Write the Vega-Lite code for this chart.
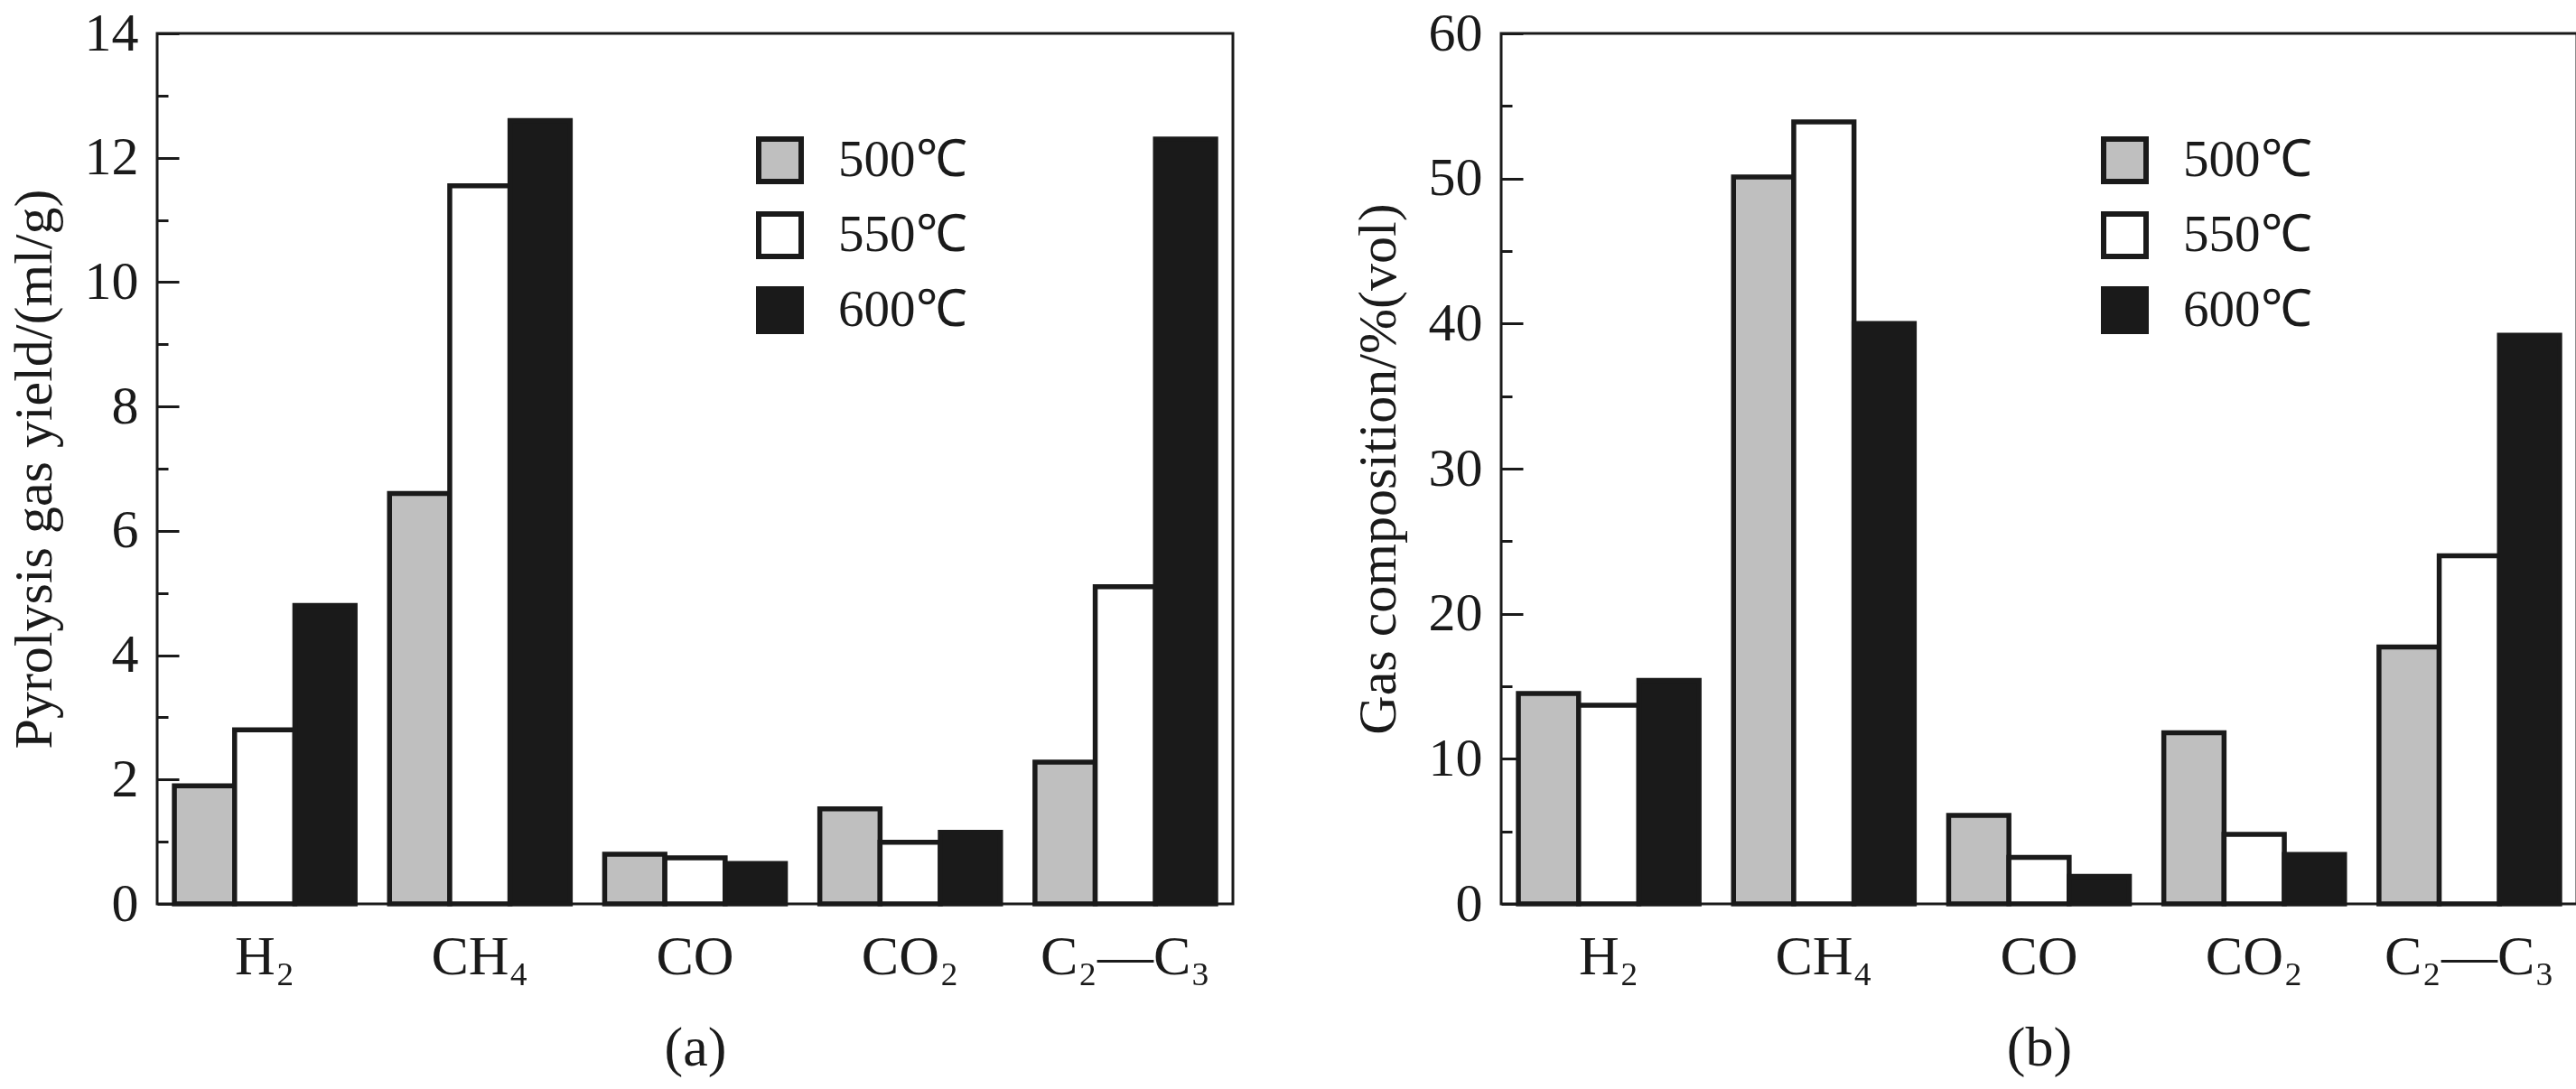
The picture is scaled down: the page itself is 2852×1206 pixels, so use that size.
{
  "$schema": "https://vega.github.io/schema/vega-lite/v6.json",
  "background": "white",
  "padding": {"left": 6, "top": 5, "right": 0, "bottom": 0},
  "spacing": 127,
  "config": {
    "font": "Liberation Serif",
    "view": {"stroke": "#1a1a1a", "strokeWidth": 3},
    "axis": {
      "labelFont": "Liberation Serif",
      "titleFont": "Liberation Serif",
      "labelColor": "#1a1a1a",
      "titleColor": "#1a1a1a",
      "titleFontWeight": "normal",
      "domain": false,
      "grid": false,
      "tickColor": "#1a1a1a",
      "tickWidth": 3,
      "labelOverlap": false,
      "labelFlush": false,
      "labelLimit": 500
    },
    "legend": {
      "labelFont": "Liberation Serif",
      "labelColor": "#1a1a1a"
    }
  },
  "datasets": {
    "yield": [
      {"gas": "H₂", "temp": "500℃", "value": 1.9},
      {"gas": "H₂", "temp": "550℃", "value": 2.8},
      {"gas": "H₂", "temp": "600℃", "value": 4.8},
      {"gas": "CH₄", "temp": "500℃", "value": 6.6},
      {"gas": "CH₄", "temp": "550℃", "value": 11.55},
      {"gas": "CH₄", "temp": "600℃", "value": 12.6},
      {"gas": "CO", "temp": "500℃", "value": 0.8},
      {"gas": "CO", "temp": "550℃", "value": 0.74},
      {"gas": "CO", "temp": "600℃", "value": 0.65},
      {"gas": "CO₂", "temp": "500℃", "value": 1.53},
      {"gas": "CO₂", "temp": "550℃", "value": 0.99},
      {"gas": "CO₂", "temp": "600℃", "value": 1.15},
      {"gas": "C₂—C₃", "temp": "500℃", "value": 2.28},
      {"gas": "C₂—C₃", "temp": "550℃", "value": 5.1},
      {"gas": "C₂—C₃", "temp": "600℃", "value": 12.3}
    ],
    "comp": [
      {"gas": "H₂", "temp": "500℃", "value": 14.5},
      {"gas": "H₂", "temp": "550℃", "value": 13.7},
      {"gas": "H₂", "temp": "600℃", "value": 15.4},
      {"gas": "CH₄", "temp": "500℃", "value": 50.1},
      {"gas": "CH₄", "temp": "550℃", "value": 53.9},
      {"gas": "CH₄", "temp": "600℃", "value": 40.0},
      {"gas": "CO", "temp": "500℃", "value": 6.1},
      {"gas": "CO", "temp": "550℃", "value": 3.2},
      {"gas": "CO", "temp": "600℃", "value": 1.9},
      {"gas": "CO₂", "temp": "500℃", "value": 11.8},
      {"gas": "CO₂", "temp": "550℃", "value": 4.8},
      {"gas": "CO₂", "temp": "600℃", "value": 3.4},
      {"gas": "C₂—C₃", "temp": "500℃", "value": 17.7},
      {"gas": "C₂—C₃", "temp": "550℃", "value": 24.0},
      {"gas": "C₂—C₃", "temp": "600℃", "value": 39.2}
    ]
  },
  "hconcat": [
    {
      "width": 1191,
      "height": 964,
      "data": {"name": "yield"},
      "mark": {"type": "bar", "stroke": "#1a1a1a", "strokeWidth": 5.5},
      "encoding": {
        "x": {
          "field": "gas",
          "type": "nominal",
          "sort": ["H₂", "CH₄", "CO", "CO₂", "C₂—C₃"],
          "scale": {"paddingInner": 0.16, "paddingOuter": 0.08},
          "axis": {
            "title": "(a)",
            "titleFontSize": 62,
            "titlePadding": 40,
            "labelAngle": 0,
            "labelFontSize": 62,
            "labelPadding": 28,
            "ticks": false,
            "tickSize": 0
          }
        },
        "xOffset": {"field": "temp", "sort": ["500℃", "550℃", "600℃"]},
        "y": {
          "field": "value",
          "type": "quantitative",
          "scale": {"domain": [0, 14], "nice": false},
          "axis": {
            "title": "Pyrolysis gas yield/(ml/g)",
            "titleFontSize": 60,
            "titlePadding": 24,
            "values": [0, 1, 2, 3, 4, 5, 6, 7, 8, 9, 10, 11, 12, 13, 14],
            "labelExpr": "datum.value % 2 === 0 ? datum.label : ''",
            "labelFontSize": 60,
            "tickSize": {"condition": {"test": "datum.value % 2 === 0", "value": -24}, "value": -12},
            "labelPadding": 45
          }
        },
        "fill": {
          "field": "temp",
          "type": "nominal",
          "scale": {"domain": ["500℃", "550℃", "600℃"], "range": ["#bfbfbf", "#ffffff", "#1a1a1a"]},
          "legend": {
            "title": null,
            "orient": "none",
            "legendX": 661,
            "legendY": 112,
            "padding": 0,
            "symbolType": "square",
            "symbolSize": 2209,
            "symbolStrokeColor": "#1a1a1a",
            "symbolStrokeWidth": 6,
            "symbolOpacity": 1,
            "labelFontSize": 57,
            "labelOffset": 36,
            "rowPadding": 12
          }
        }
      }
    },
    {
      "width": 1191,
      "height": 964,
      "data": {"name": "comp"},
      "mark": {"type": "bar", "stroke": "#1a1a1a", "strokeWidth": 5.5},
      "encoding": {
        "x": {
          "field": "gas",
          "type": "nominal",
          "sort": ["H₂", "CH₄", "CO", "CO₂", "C₂—C₃"],
          "scale": {"paddingInner": 0.16, "paddingOuter": 0.08},
          "axis": {
            "title": "(b)",
            "titleFontSize": 62,
            "titlePadding": 40,
            "labelAngle": 0,
            "labelFontSize": 62,
            "labelPadding": 28,
            "ticks": false,
            "tickSize": 0
          }
        },
        "xOffset": {"field": "temp", "sort": ["500℃", "550℃", "600℃"]},
        "y": {
          "field": "value",
          "type": "quantitative",
          "scale": {"domain": [0, 60], "nice": false},
          "axis": {
            "title": "Gas composition/%(vol)",
            "titleFontSize": 60,
            "titlePadding": 24,
            "values": [0, 5, 10, 15, 20, 25, 30, 35, 40, 45, 50, 55, 60],
            "labelExpr": "datum.value % 10 === 0 ? datum.label : ''",
            "labelFontSize": 60,
            "tickSize": {"condition": {"test": "datum.value % 10 === 0", "value": -24}, "value": -12},
            "labelPadding": 45
          }
        },
        "fill": {
          "field": "temp",
          "type": "nominal",
          "scale": {"domain": ["500℃", "550℃", "600℃"], "range": ["#bfbfbf", "#ffffff", "#1a1a1a"]},
          "legend": {
            "title": null,
            "orient": "none",
            "legendX": 662,
            "legendY": 112,
            "padding": 0,
            "symbolType": "square",
            "symbolSize": 2209,
            "symbolStrokeColor": "#1a1a1a",
            "symbolStrokeWidth": 6,
            "symbolOpacity": 1,
            "labelFontSize": 57,
            "labelOffset": 36,
            "rowPadding": 12
          }
        }
      }
    }
  ],
  "resolve": {"scale": {"fill": "independent"}, "legend": {"fill": "independent"}}
}
